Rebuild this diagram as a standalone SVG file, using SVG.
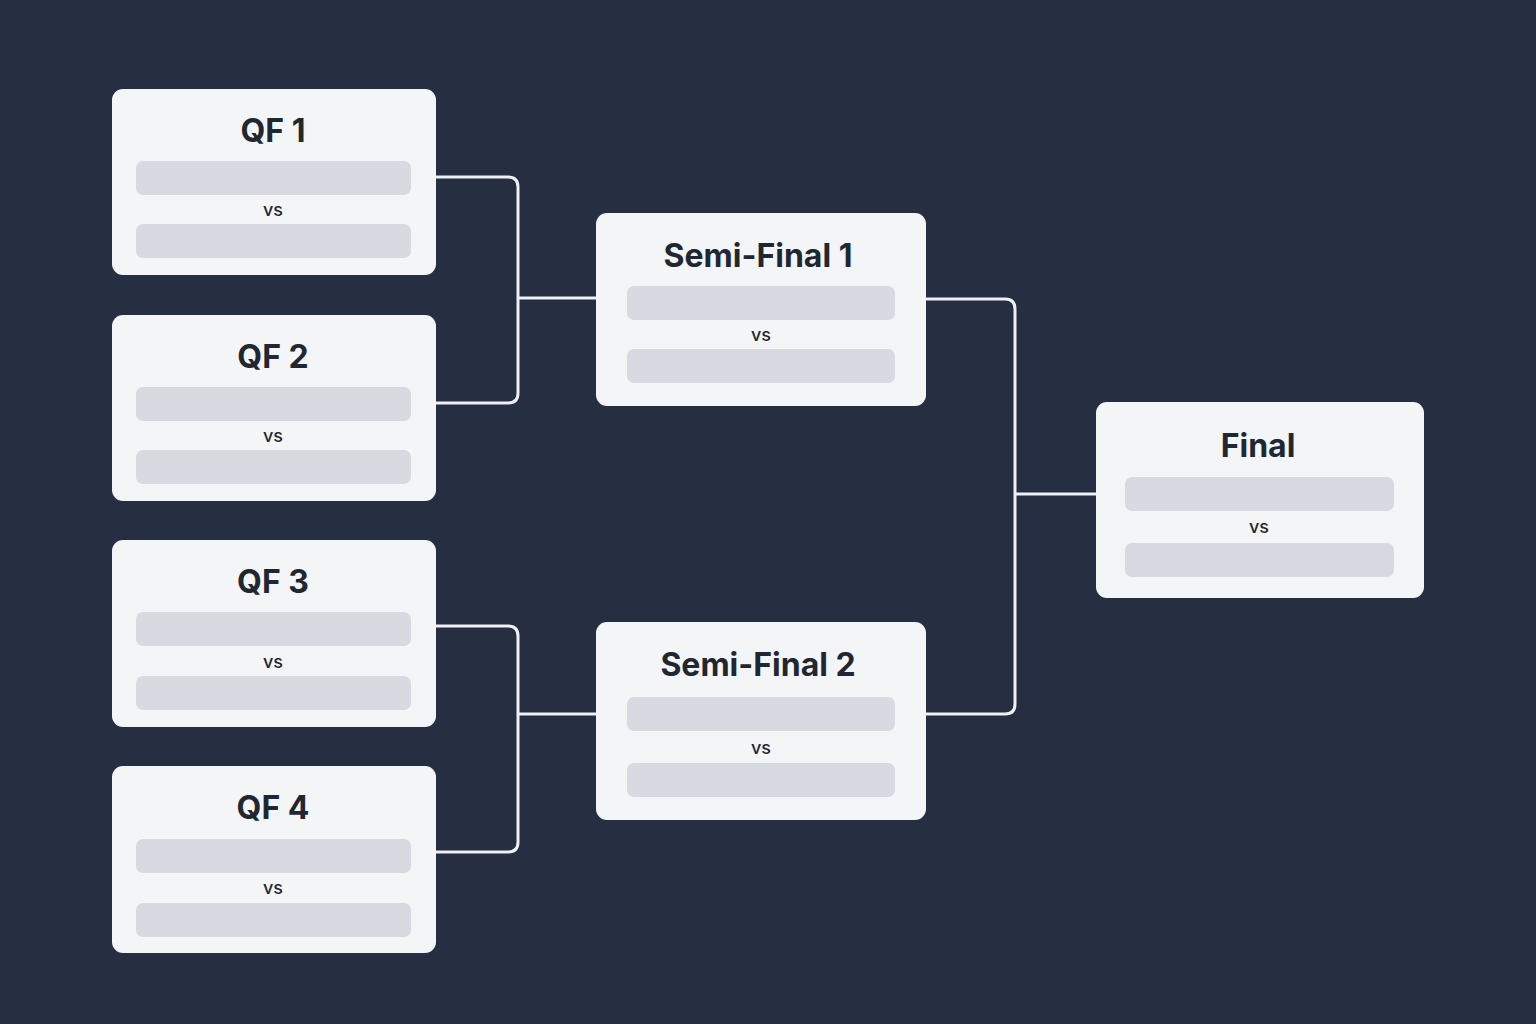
<svg xmlns="http://www.w3.org/2000/svg" width="1536" height="1024" viewBox="0 0 1536 1024">
<style>
.card{fill:#f4f5f7}
.slot{fill:#d7dae0}
.title{font-family:Inter,"Liberation Sans",sans-serif;font-weight:700;font-size:32px;fill:#1f2733;text-anchor:middle}
.vs{font-family:Inter,"Liberation Sans",sans-serif;font-weight:500;font-size:18px;fill:#1f2733;text-anchor:middle}
.conn{fill:none;stroke:#eef0f3;stroke-width:3;stroke-linejoin:round}
</style>
<rect width="1536" height="1024" fill="#252f41"/>
<g id="connectors">
<path class="conn" d="M436 177 H508 Q518 177 518 187 V393 Q518 403 508 403 H436"/>
<path class="conn" d="M518 298 H596"/>
<path class="conn" d="M436 626 H508 Q518 626 518 636 V842 Q518 852 508 852 H436"/>
<path class="conn" d="M518 714 H596"/>
<path class="conn" d="M926 299 H1005 Q1015 299 1015 309 V704 Q1015 714 1005 714 H926"/>
<path class="conn" d="M1015 494 H1096"/>
</g>
<g id="qf1">
<rect class="card" x="112" y="89" width="324" height="186" rx="11"/>
<text class="title" x="273" y="142">QF 1</text>
<rect class="slot" x="136" y="161" width="275" height="34" rx="7"/>
<text class="vs" x="273" y="216">vs</text>
<rect class="slot" x="136" y="224" width="275" height="34" rx="7"/>
</g>
<g id="qf2">
<rect class="card" x="112" y="315" width="324" height="186" rx="11"/>
<text class="title" x="273" y="368">QF 2</text>
<rect class="slot" x="136" y="387" width="275" height="34" rx="7"/>
<text class="vs" x="273" y="442">vs</text>
<rect class="slot" x="136" y="450" width="275" height="34" rx="7"/>
</g>
<g id="qf3">
<rect class="card" x="112" y="540" width="324" height="187" rx="11"/>
<text class="title" x="273" y="593">QF 3</text>
<rect class="slot" x="136" y="612" width="275" height="34" rx="7"/>
<text class="vs" x="273" y="668">vs</text>
<rect class="slot" x="136" y="676" width="275" height="34" rx="7"/>
</g>
<g id="qf4">
<rect class="card" x="112" y="766" width="324" height="187" rx="11"/>
<text class="title" x="273" y="819">QF 4</text>
<rect class="slot" x="136" y="839" width="275" height="34" rx="7"/>
<text class="vs" x="273" y="894">vs</text>
<rect class="slot" x="136" y="903" width="275" height="34" rx="7"/>
</g>
<g id="sf1">
<rect class="card" x="596" y="213" width="330" height="193" rx="11"/>
<text class="title" x="758" y="267">Semi-Final 1</text>
<rect class="slot" x="627" y="286" width="268" height="34" rx="7"/>
<text class="vs" x="761" y="341">vs</text>
<rect class="slot" x="627" y="349" width="268" height="34" rx="7"/>
</g>
<g id="sf2">
<rect class="card" x="596" y="622" width="330" height="198" rx="11"/>
<text class="title" x="758" y="676">Semi-Final 2</text>
<rect class="slot" x="627" y="697" width="268" height="34" rx="7"/>
<text class="vs" x="761" y="754">vs</text>
<rect class="slot" x="627" y="763" width="268" height="34" rx="7"/>
</g>
<g id="final">
<rect class="card" x="1096" y="402" width="328" height="196" rx="11"/>
<text class="title" x="1258" y="457">Final</text>
<rect class="slot" x="1125" y="477" width="269" height="34" rx="7"/>
<text class="vs" x="1259" y="533">vs</text>
<rect class="slot" x="1125" y="543" width="269" height="34" rx="7"/>
</g>
</svg>
